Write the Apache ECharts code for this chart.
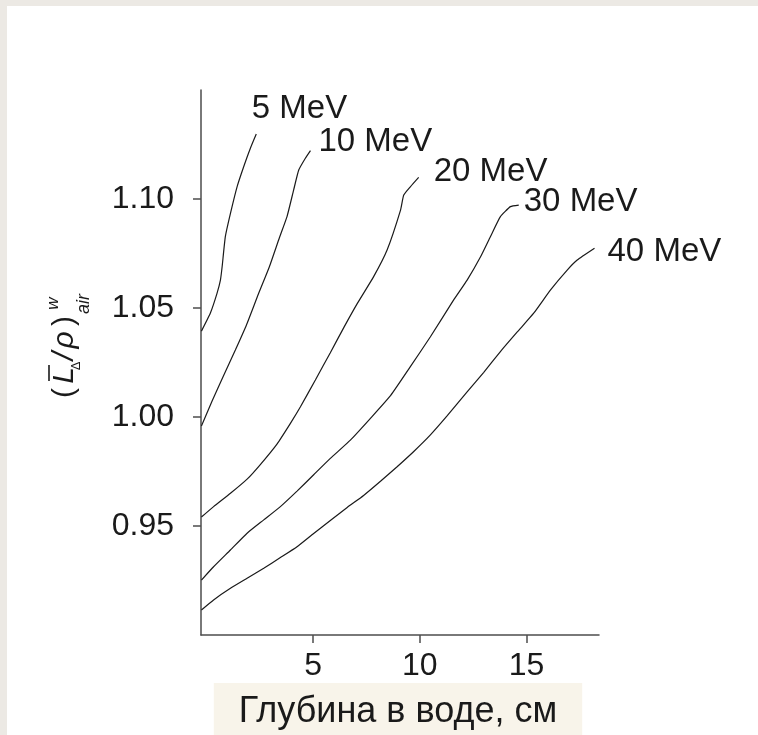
<!DOCTYPE html>
<html>
<head>
<meta charset="utf-8">
<script src="https://cdn.jsdelivr.net/npm/echarts@6/dist/echarts.min.js"></script>
<style>
html,body{margin:0;padding:0;background:#fff;}
#c{width:758px;height:735px;}
</style>
</head>
<body>
<div id="c"></div>
<script>
// Depth in water, cm (x) and stopping-power ratio (y) for each beam energy
const energies = ['5 MeV', '10 MeV', '20 MeV', '30 MeV', '40 MeV'];

const x5  = [-0.23, 0.19, 0.50, 0.66, 0.74, 0.89, 1.13, 1.44, 1.75, 2.06, 2.34];
const y5  = [1.0394, 1.0477, 1.0567, 1.0628, 1.0689, 1.0827, 1.0934, 1.1056, 1.1148, 1.1232, 1.1298];

const x10 = [-0.23, 0.27, 0.80, 1.36, 1.88, 2.44, 2.95, 3.42, 3.78, 4.09, 4.33, 4.64, 4.88];
const y10 = [0.9959, 1.0073, 1.0188, 1.0307, 1.0422, 1.0564, 1.0688, 1.0821, 1.0919, 1.1041, 1.1133, 1.1187, 1.1222];

const x20 = [-0.23, 0.34, 1.13, 1.91, 2.53, 3.31, 3.94, 4.41, 5.11, 5.81, 6.44, 7.07, 7.84, 8.47, 9.10, 9.25, 9.56, 9.95];
const y20 = [0.9541, 0.9589, 0.9650, 0.9715, 0.9782, 0.9876, 0.9971, 1.0047, 1.0170, 1.0295, 1.0410, 1.0520, 1.0644, 1.0766, 1.0949, 1.1018, 1.1056, 1.1099];

const x30 = [-0.23, 0.34, 1.13, 1.91, 2.69, 3.47, 4.25, 5.03, 5.81, 6.75, 7.69, 8.63, 9.56, 10.50, 11.59, 12.22, 12.85, 13.31, 13.78, 14.25, 14.64];
const y30 = [0.9252, 0.9313, 0.9390, 0.9467, 0.9528, 0.9589, 0.9660, 0.9735, 0.9810, 0.9894, 0.9994, 1.0098, 1.0231, 1.0368, 1.0537, 1.0628, 1.0735, 1.0827, 1.0919, 1.0965, 1.0972];

const x40 = [-0.23, 0.34, 1.13, 1.91, 2.69, 3.47, 4.25, 5.03, 5.81, 6.60, 7.37, 8.16, 8.94, 9.72, 10.50, 11.28, 12.22, 13.00, 13.78, 14.57, 15.34, 16.13, 16.91, 17.38, 18.19];
const y40 = [0.9115, 0.9161, 0.9214, 0.9260, 0.9306, 0.9355, 0.9405, 0.9466, 0.9525, 0.9585, 0.9640, 0.9705, 0.9772, 0.9842, 0.9918, 1.0005, 1.0115, 1.0205, 1.0300, 1.0390, 1.0476, 1.0583, 1.0674, 1.0720, 1.0774];

const xTicks = [5, 10, 15];
const yTicks = [0.95, 1.00, 1.05, 1.10];
const xTitle = 'Глубина в воде, см';

const FONT = '"Liberation Sans", Arial, Helvetica, sans-serif';
const INK = '#1a1a1a';
const AXIS = '#4d4d4d';

const seriesX = [x5, x10, x20, x30, x40];
const seriesY = [y5, y10, y20, y30, y40];
const labelOffsets = [[-4.5, -25], [8, -9], [15, -5.5], [5, -3.3], [13, 3.2]];

const series = energies.map((name, k) => ({
  type: 'line',
  name: name,
  data: seriesX[k].map((x, i) => [x, seriesY[k][i]]),
  symbol: 'none',
  smooth: 0.15,
  clip: false,
  lineStyle: { color: INK, width: 1.2 },
  endLabel: {
    show: true,
    formatter: '{a}',
    fontFamily: FONT,
    fontSize: 33,
    color: INK,
    distance: 0,
    offset: labelOffsets[k]
  }
}));

const chart = echarts.init(document.getElementById('c'), null, { renderer: 'canvas' });

const titleFont = (size, italic) => (italic ? 'italic ' : '') + size + 'px ' + FONT;
const t = (text, x, y, size, italic) => ({
  type: 'text', x: x, y: y,
  style: { text: text, font: titleFont(size, italic), fill: INK, align: 'center', verticalAlign: 'middle' }
});

chart.setOption({
  animation: false,
  backgroundColor: '#ffffff',
  grid: { left: 201, right: 159, top: 90, bottom: 100, containLabel: false },
  xAxis: {
    type: 'value',
    min: -0.25,
    max: 18.4,
    splitLine: { show: false },
    axisLine: { show: true, onZero: false, lineStyle: { color: AXIS, width: 1.5 } },
    axisTick: { show: true, customValues: xTicks, length: 8, lineStyle: { color: AXIS, width: 1.5 } },
    axisLabel: { customValues: xTicks, fontFamily: FONT, fontSize: 32, color: INK, margin: 15 }
  },
  yAxis: {
    type: 'value',
    min: 0.90,
    max: 1.15,
    splitLine: { show: false },
    axisLine: { show: true, onZero: false, lineStyle: { color: AXIS, width: 1.5 } },
    axisTick: { show: true, customValues: yTicks, length: 8, lineStyle: { color: AXIS, width: 1.5 } },
    axisLabel: {
      customValues: yTicks, fontFamily: FONT, fontSize: 32, color: INK, margin: 27,
      formatter: v => v.toFixed(2)
    }
  },
  graphic: [
    { type: 'rect', z: -10, silent: true, shape: { x: 0, y: 0, width: 758, height: 6 }, style: { fill: '#ece9e4' } },
    { type: 'rect', z: -10, silent: true, shape: { x: 0, y: 0, width: 7, height: 735 }, style: { fill: '#ece9e4' } },
    {
      type: 'text', x: 398, y: 712,
      style: {
        text: xTitle, font: '36px ' + FONT, fill: INK,
        align: 'center', verticalAlign: 'middle',
        backgroundColor: '#f8f4ea', padding: [12, 25, 10, 25]
      }
    },
    {
      type: 'group', x: 74, y: 401, rotation: Math.PI / 2,
      children: [
        t('(', 8, -9.5, 30, false),
        t('L', 25.5, -9.5, 30, true),
        { type: 'line', shape: { x1: 20, y1: -25, x2: 36, y2: -25 }, style: { stroke: INK, lineWidth: 1.6 } },
        t('Δ', 35, 2, 13, false),
        t('/', 45, -9.5, 30, true),
        t('ρ', 61, -9.5, 30, true),
        t(')', 80, -9.5, 30, false),
        t('w', 97.5, -21, 17, true),
        t('air', 97, 10, 18, true)
      ]
    }
  ],
  series: series
});
</script>
</body>
</html>
